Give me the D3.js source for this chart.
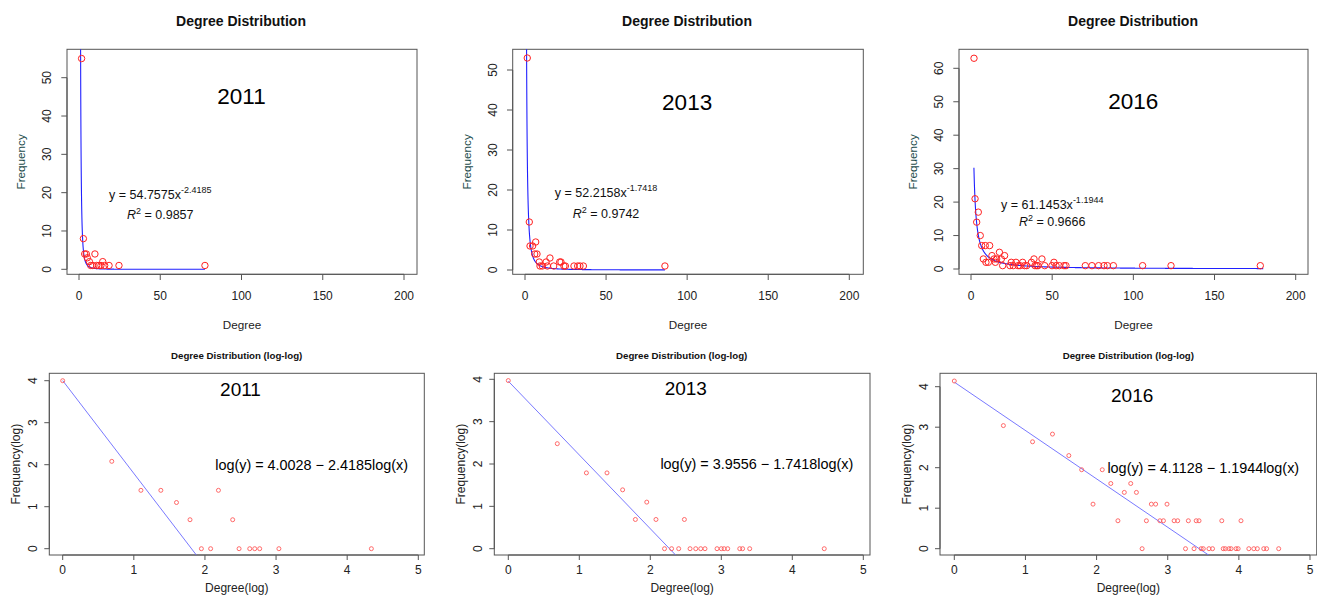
<!DOCTYPE html>
<html>
<head>
<meta charset="utf-8">
<script src="https://cdn.jsdelivr.net/npm/d3@7"></script>
<style>
  body { margin: 0; background: #fff; }
  svg { display: block; }
  text { font-family: "Liberation Sans", Arial, sans-serif; }
</style>
</head>
<body>
<svg id="chart" width="1317" height="597"></svg>
<script>
// ---- data ----
const years = ['2011', '2013', '2016'];

// degree distribution (linear axes)
const deg2011 = [1.6, 2.7, 3.5, 4.5, 5.1, 6.4, 7.2, 8.4, 9.8, 10.9, 12.3, 13.5, 14.6, 15.8, 18.5, 24.6, 77.5];
const freq2011 = [55, 8, 4, 4, 3, 2, 1, 1, 4, 1, 1, 1, 2, 1, 1, 1, 1];

const deg2013 = [1.4, 2.65, 3.1, 4.7, 6.6, 6.0, 7.4, 8.8, 9.25, 10.7, 13, 13.8, 15.4, 17.7, 21.4, 22.2, 24, 24.9, 30.2, 32.5, 33.9, 36, 86.3];
const freq2013 = [53, 12, 6, 6, 7, 4, 4, 2, 1, 1, 2, 1, 3, 1, 2, 2, 1, 1, 1, 1, 1, 1, 1];

const deg2016 = [1.85, 2.5, 4.5, 3.5, 5.7, 6.6, 8.8, 11.5, 7.6, 9.2, 10.7, 12.9, 14.2, 15, 15.8, 17.5, 18.7, 20.7, 19.5,
  24, 24.8, 26, 27.7, 29, 30.2, 31.8, 33, 34.3, 37.2, 38.8, 39.4, 40.5, 41.3, 43.7, 45.4, 49.9, 51.1, 52.4, 54.4,
  57.3, 58.5, 70.4, 74.5, 78.6, 81.9, 84, 87.7, 105.7, 123.2, 178.2];
const freq2016 = [63, 21, 17, 14, 10, 7, 7, 7, 3, 2, 2, 4, 3, 2, 3, 5, 3, 4, 1,
  1, 2, 1, 2, 1, 1, 2, 1, 1, 2, 3, 1, 1, 1, 3, 1, 1, 2, 1, 1,
  1, 1, 1, 1, 1, 1, 1, 1, 1, 1, 1];

// degree distribution (log-log)
const logDeg2011 = [0, 0.69, 1.1, 1.38, 1.6, 1.79, 1.95, 2.08, 2.19, 2.39, 2.48, 2.63, 2.7, 2.77, 3.04, 4.34];
const logFreq2011 = [4.0, 2.08, 1.39, 1.39, 1.1, 0.69, 0, 0, 1.39, 0.69, 0, 0, 0, 0, 0, 0];

const logDeg2013 = [0, 0.69, 1.1, 1.39, 1.61, 1.79, 1.95, 2.08, 2.2, 2.3, 2.4, 2.48, 2.56, 2.64, 2.71, 2.77,
  2.94, 3.0, 3.04, 3.09, 3.26, 3.3, 3.4, 4.45];
const logFreq2013 = [3.97, 2.48, 1.79, 1.79, 1.39, 0.69, 1.1, 0.69, 0, 0, 0, 0.69, 0, 0, 0, 0,
  0, 0, 0, 0, 0, 0, 0, 0];

const logDeg2016 = [0, 0.69, 1.1, 1.38, 1.61, 1.79, 1.95, 2.08, 2.2, 2.3, 2.39, 2.48, 2.56, 2.64, 2.7, 2.77,
  2.83, 2.89, 2.94, 2.99, 3.09, 3.14, 3.25, 3.29, 3.37, 3.4, 3.44, 3.47, 3.5, 3.58, 3.63, 3.76, 3.78, 3.81,
  3.86, 3.89, 3.96, 3.99, 4.03, 4.14, 4.21, 4.26, 4.35, 4.39, 4.56];
const logFreq2016 = [4.14, 3.04, 2.64, 2.83, 2.3, 1.95, 1.1, 1.95, 1.61, 0.69, 1.39, 1.61, 1.39, 0, 0.69, 1.1,
  1.1, 0.69, 0.69, 1.1, 0.69, 0.69, 0, 0.69, 0, 0.69, 0.69, 0, 0, 0, 0, 0.69, 0, 0,
  0, 0, 0, 0, 0.69, 0, 0, 0, 0, 0, 0];

// power-law fits y = a * x^b
const fitA = [54.7575, 52.2158, 61.1453];
const fitB = [-2.4185, -1.7418, -1.1944];
const fitFrom = [0.95, 0.95, 1.8];
const fitTo = [77.5, 86.3, 180];
const fitR2 = ['0.9857', '0.9742', '0.9666'];

// log-log regression lines as drawn: log(y) = c + m log(x)
const logC = [4.0028, 3.9556, 4.1128];
const logM = [-2.21, -1.7418, -1.1944];
const logLabel = ['log(y) = 4.0028 \u2212 2.4185log(x)',
                  'log(y) = 3.9556 \u2212 1.7418log(x)',
                  'log(y) = 4.1128 \u2212 1.1944log(x)'];

const topX = [0, 50, 100, 150, 200];
const topYTicks = [[0, 10, 20, 30, 40, 50], [0, 10, 20, 30, 40, 50], [0, 10, 20, 30, 40, 50, 60]];
const yearY = [45, 42, 50];
const logTicksX = [0, 1, 2, 3, 4, 5];
const logTicksY = [0, 1, 2, 3, 4];

const topDeg = [deg2011, deg2013, deg2016];
const topFreq = [freq2011, freq2013, freq2016];
const botDeg = [logDeg2011, logDeg2013, logDeg2016];
const botFreq = [logFreq2011, logFreq2013, logFreq2016];

// ---- layout (pixels) ----
const topLayout = [
  { box: [67, 417, 49.3, 274.3], xr: [79, 404], yd: [0, 50], yr: [269.3, 77.7], cx: 241 },
  { box: [512.7, 863.3, 49.3, 274.3], xr: [525, 849.3], yd: [0, 50], yr: [270, 70], cx: 687 },
  { box: [959, 1308, 49.3, 274.3], xr: [971, 1295.7], yd: [0, 60], yr: [269, 68.3], cx: 1133 }
];
const botLayout = [
  { box: [49.3, 424.3, 373.3, 555], xr: [62.7, 418.3], yr: [548.7, 380.7], cx: 236.7 },
  { box: [494.3, 870, 373.3, 555], xr: [508.3, 863.3], yr: [548.7, 379.3], cx: 681.7 },
  { box: [940, 1316.7, 373.3, 555], xr: [954.3, 1310], yr: [548.7, 386.7], cx: 1128.3 }
];

const svg = d3.select('#chart');
const axisCol = '#555';
const labCol = '#222';

function frame(g, L, id, tickLen, xTicks, yTicks, x, y, labOffX, labOffY) {
  const [l, r, t, b] = L.box;
  g.append('clipPath').attr('id', id)
    .append('rect').attr('x', l).attr('y', t).attr('width', r - l).attr('height', b - t);

  g.append('rect')
    .attr('x', l).attr('y', t).attr('width', r - l).attr('height', b - t)
    .attr('fill', 'none').attr('stroke', axisCol).attr('stroke-width', 1);

  // x axis in R style: line from first to last tick, outward ticks
  g.append('line')
    .attr('x1', x(xTicks[0])).attr('x2', x(xTicks[xTicks.length - 1]))
    .attr('y1', b).attr('y2', b).attr('stroke', axisCol);
  g.selectAll('.xt').data(xTicks).enter().append('line')
    .attr('x1', d => x(d)).attr('x2', d => x(d))
    .attr('y1', b).attr('y2', b + tickLen).attr('stroke', axisCol);
  g.selectAll('.xl').data(xTicks).enter().append('text')
    .attr('x', d => x(d)).attr('y', b + labOffX)
    .attr('text-anchor', 'middle').attr('dominant-baseline', 'central')
    .attr('font-size', 12).attr('fill', labCol)
    .text(d => d);

  g.append('line')
    .attr('x1', l).attr('x2', l)
    .attr('y1', y(yTicks[0])).attr('y2', y(yTicks[yTicks.length - 1])).attr('stroke', axisCol);
  g.selectAll('.yt').data(yTicks).enter().append('line')
    .attr('x1', l).attr('x2', l - tickLen)
    .attr('y1', d => y(d)).attr('y2', d => y(d)).attr('stroke', axisCol);
  g.selectAll('.yl').data(yTicks).enter().append('text')
    .attr('transform', d => `translate(${l - labOffY},${y(d)}) rotate(-90)`)
    .attr('text-anchor', 'middle').attr('dominant-baseline', 'central')
    .attr('font-size', 12).attr('fill', labCol)
    .text(d => d);
}

// ---- top row: linear axes ----
topLayout.forEach(function(L, i) {
  const g = svg.append('g');
  const x = d3.scaleLinear().domain([0, 200]).range(L.xr);
  const y = d3.scaleLinear().domain(L.yd).range(L.yr);
  const [l, r, t, b] = L.box;

  frame(g, L, 'clipTop' + i, 5.7, topX, topYTicks[i], x, y, 22, 20);

  g.append('text').attr('x', L.cx).attr('y', 21)
    .attr('text-anchor', 'middle').attr('dominant-baseline', 'central')
    .attr('font-size', 14).attr('font-weight', 'bold').attr('fill', '#111')
    .text('Degree Distribution');
  g.append('text').attr('x', (l + r) / 2).attr('y', b + 50)
    .attr('text-anchor', 'middle').attr('dominant-baseline', 'central')
    .attr('font-size', 11.7).attr('fill', labCol).text('Degree');
  g.append('text')
    .attr('transform', `translate(${l - 46.5},${(t + b) / 2}) rotate(-90)`)
    .attr('text-anchor', 'middle').attr('dominant-baseline', 'central')
    .attr('font-size', 11.7).attr('fill', '#1a4a4a').text('Frequency');

  const plot = g.append('g').attr('clip-path', `url(#clipTop${i})`);

  const xs = d3.range(fitFrom[i], fitTo[i], 0.05).concat([fitTo[i]]);
  const line = d3.line()
    .x(d => x(d))
    .y(d => y(Math.min(fitA[i] * Math.pow(d, fitB[i]), 200)));
  plot.append('path').datum(xs)
    .attr('d', line).attr('fill', 'none')
    .attr('stroke', '#2020ff').attr('stroke-width', 1.1);

  plot.selectAll('circle').data(topDeg[i]).enter().append('circle')
    .attr('cx', d => x(d))
    .attr('cy', (d, j) => y(topFreq[i][j]))
    .attr('r', 3.2)
    .attr('fill', 'none').attr('stroke', '#ff2020').attr('stroke-width', 1);

  g.append('text').attr('x', x(100)).attr('y', y(yearY[i]))
    .attr('text-anchor', 'middle').attr('dominant-baseline', 'central')
    .attr('font-size', 22.5).attr('fill', '#000').text(years[i]);

  const eq = g.append('text').attr('x', x(50)).attr('y', y(20) + 6.5)
    .attr('text-anchor', 'middle').attr('font-size', 12.5).attr('fill', '#111');
  eq.append('tspan').text('y = ' + fitA[i] + 'x');
  eq.append('tspan').attr('dy', -6).attr('font-size', 9).text(fitB[i]);

  const r2 = g.append('text').attr('x', x(50)).attr('y', y(15) + 7.5)
    .attr('text-anchor', 'middle').attr('font-size', 12.5).attr('fill', '#111');
  r2.append('tspan').attr('font-style', 'italic').text('R');
  r2.append('tspan').attr('dy', -5).attr('font-size', 9).text('2');
  r2.append('tspan').attr('dy', 5).text(' = ' + fitR2[i]);
});

// ---- bottom row: log-log ----
botLayout.forEach(function(L, i) {
  const g = svg.append('g');
  const x = d3.scaleLinear().domain([0, 5]).range(L.xr);
  const y = d3.scaleLinear().domain([0, 4]).range(L.yr);
  const [l, r, t, b] = L.box;

  frame(g, L, 'clipBot' + i, 5, logTicksX, logTicksY, x, y, 15, 16);

  g.append('text').attr('x', L.cx).attr('y', 355)
    .attr('text-anchor', 'middle').attr('dominant-baseline', 'central')
    .attr('font-size', 9.7).attr('font-weight', 'bold').attr('fill', '#111')
    .text('Degree Distribution (log-log)');
  g.append('text').attr('x', (l + r) / 2).attr('y', b + 33.3)
    .attr('text-anchor', 'middle').attr('dominant-baseline', 'central')
    .attr('font-size', 12).attr('fill', labCol).text('Degree(log)');
  g.append('text')
    .attr('transform', `translate(${l - 33.5},${(t + b) / 2}) rotate(-90)`)
    .attr('text-anchor', 'middle').attr('dominant-baseline', 'central')
    .attr('font-size', 12).attr('fill', labCol).text('Frequency(log)');

  const plot = g.append('g').attr('clip-path', `url(#clipBot${i})`);

  plot.append('line')
    .attr('x1', x(0)).attr('y1', y(logC[i]))
    .attr('x2', x(5)).attr('y2', y(logC[i] + logM[i] * 5))
    .attr('stroke', '#6a6aff').attr('stroke-width', 0.9);

  plot.selectAll('circle').data(botDeg[i]).enter().append('circle')
    .attr('cx', d => x(d))
    .attr('cy', (d, j) => y(botFreq[i][j]))
    .attr('r', 2)
    .attr('fill', 'none').attr('stroke', '#ff5a5a').attr('stroke-width', 0.9);

  g.append('text').attr('x', x(2.5)).attr('y', y(3.78))
    .attr('text-anchor', 'middle').attr('dominant-baseline', 'central')
    .attr('font-size', 19).attr('fill', '#000').text(years[i]);

  g.append('text').attr('x', x(3.5)).attr('y', y(2))
    .attr('text-anchor', 'middle').attr('dominant-baseline', 'central')
    .attr('font-size', 14.4).attr('fill', '#000').text(logLabel[i]);
});
</script>
</body>
</html>
